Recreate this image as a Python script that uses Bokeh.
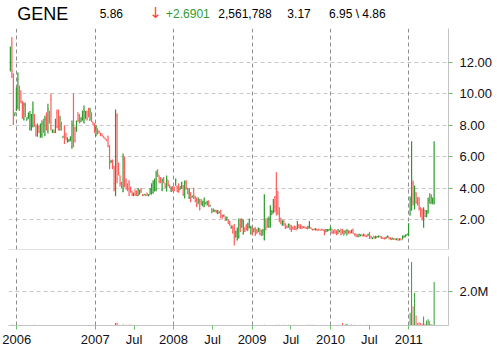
import pandas as pd
from bokeh.plotting import figure
from bokeh.layouts import column
from bokeh.models import ColumnDataSource, Range1d, FixedTicker, PrintfTickFormatter, Grid, Span
from bokeh.embed import file_html
from bokeh.resources import INLINE
from bokeh.core.properties import value

# ---------------- data (weekly bars, first week ending 2005-12-02) ----------------
first_week = "2005-12-02"

opens = [
    11.6, 13.2, 11.2, 8.6, 9.0, 9.2, 10.5, 10.2, 9.5, 8.4,
    9.4, 8.3, 8.4, 7.8, 7.7, 7.9, 8.6, 8.0, 7.3, 7.9,
    7.3, 7.4, 8.3, 7.4, 8.6, 7.6, 8.9, 9.6, 7.6, 7.7,
    7.6, 8.8, 8.9, 7.7, 8.2, 7.2, 7.9, 7.5, 7.0, 7.0,
    7.0, 6.6, 9.5, 7.8, 7.6, 8.8, 8.6, 8.2, 8.3, 8.2,
    8.4, 8.9, 9.0, 8.3, 8.8, 8.2, 8.1, 7.3, 7.8, 7.6,
    7.5, 7.45, 7.3, 7.2, 7.1, 7.3, 6.7, 5.6, 5.8, 5.4,
    3.5, 8.6, 5.6, 4.8, 4.3, 3.8, 5.8, 4.5, 4.2, 4.4,
    4.0, 3.8, 3.5, 3.9, 3.8, 3.5, 3.6, 3.9, 3.6, 3.55,
    3.6, 3.7, 3.5, 3.6, 3.6, 3.7, 3.8, 3.9, 5.1, 4.8,
    4.6, 3.9, 4.6, 4.3, 3.8, 4.5, 4.2, 3.8, 4.1, 4.0,
    4.2, 4.1, 4.2, 3.9, 4.0, 4.1, 3.4, 4.4, 4.0, 3.4,
    3.7, 3.4, 4.0, 3.5, 3.3, 3.0, 3.2, 3.1, 2.9, 2.8,
    3.0, 2.9, 3.2, 2.85, 2.7, 2.5, 2.5, 2.6, 2.35, 2.4,
    2.6, 2.3, 2.2, 2.2, 1.95, 2.0, 1.9, 1.45, 1.6, 1.5,
    0.9, 0.7, 0.9, 1.9, 1.5, 1.1, 1.5, 1.6, 1.3, 1.5,
    1.1, 1.5, 1.2, 1.5, 1.3, 1.2, 1.4, 1.3, 1.0, 0.8,
    2.05, 2.1, 1.5, 1.5, 2.3, 2.4, 3.4, 3.5, 3.8, 2.7,
    2.1, 1.7, 1.9, 1.75, 1.6, 1.5, 1.7, 1.6, 1.5, 1.6,
    1.55, 1.4, 1.65, 1.7, 1.6, 1.5, 1.55, 1.5, 1.4, 1.45,
    1.5, 1.4, 1.35, 1.35, 1.4, 1.4, 1.35, 1.4, 1.35, 1.35,
    1.2, 1.25, 1.3, 1.3, 1.4, 1.3, 1.35, 1.3, 1.1, 1.2,
    1.4, 1.35, 1.0, 1.3, 1.0, 1.3, 1.25, 1.15, 1.4, 1.1,
    1.1, 1.05, 0.9, 0.95, 1.05, 0.95, 1.05, 1.0, 0.95, 1.2,
    0.95, 0.77, 0.95, 0.8, 0.85, 0.88, 0.95, 0.92, 0.85, 0.85,
    0.78, 0.85, 0.9, 0.85, 0.72, 0.8, 0.8, 0.7, 0.8, 0.7,
    0.78, 0.75, 0.85, 0.9, 1.0, 1.0, 2.3, 2.6, 4.3, 2.7,
    3.7, 3.4, 3.4, 2.78, 2.57, 1.6, 2.6, 2.2, 2.4, 3.6,
    3.0, 3.0, 3.0,
]

highs = [
    13.0, 13.6, 11.3, 8.8, 10.4, 11.35, 10.5, 10.2, 9.55, 9.45,
    9.4, 8.5, 8.8, 8.9, 8.7, 9.5, 8.7, 8.0, 8.1, 7.95,
    8.1, 8.3, 8.4, 8.6, 8.8, 9.36, 8.9, 10.0, 7.7, 7.7,
    8.4, 9.0, 9.0, 8.6, 8.2, 7.3, 7.97, 7.5, 7.2, 7.1,
    7.3, 8.29, 10.0, 7.9, 8.3, 8.8, 8.7, 8.5, 8.92, 9.24,
    8.9, 8.9, 9.1, 9.1, 8.8, 8.2, 8.1, 8.0, 7.8, 7.65,
    7.5, 7.46, 7.3, 7.2, 7.1, 7.33, 6.7, 5.8, 5.8, 5.4,
    9.0, 8.75, 5.6, 4.8, 4.4, 6.2, 6.0, 4.6, 4.3, 4.5,
    4.1, 3.8, 3.7, 3.9, 3.85, 4.0, 3.9, 4.0, 3.6, 3.6,
    3.6, 3.7, 3.6, 4.0, 4.3, 4.5, 4.6, 5.1, 5.2, 4.8,
    4.7, 4.6, 4.7, 4.3, 4.8, 4.5, 4.2, 4.1, 4.1, 4.1,
    4.6, 4.16, 4.3, 4.1, 4.4, 4.2, 4.48, 4.5, 4.0, 4.0,
    3.73, 3.5, 4.0, 3.5, 3.4, 3.4, 3.3, 3.3, 3.2, 3.4,
    3.1, 3.2, 3.2, 2.9, 2.7, 2.7, 2.6, 2.6, 2.6, 2.5,
    2.6, 2.3, 2.3, 2.2, 2.2, 2.0, 1.9, 1.6, 1.6, 1.72,
    1.3, 1.5, 2.06, 2.06, 2.06, 2.0, 1.5, 1.7, 1.8, 2.06,
    1.6, 1.5, 1.45, 1.5, 1.4, 1.5, 1.45, 1.35, 1.4, 3.6,
    2.05, 2.1, 2.2, 2.9, 2.6, 3.3, 3.5, 5.0, 3.8, 2.78,
    2.1, 1.95, 1.95, 1.75, 1.6, 1.75, 1.7, 1.65, 1.55, 1.6,
    1.55, 1.9, 1.7, 1.7, 1.6, 1.55, 1.55, 1.5, 1.6, 1.9,
    1.5, 1.4, 1.4, 1.45, 1.4, 1.4, 1.35, 1.4, 1.4, 1.37,
    1.4, 1.4, 1.4, 1.55, 1.4, 1.3, 1.4, 1.3, 1.4, 1.3,
    1.4, 1.4, 1.3, 1.3, 1.4, 1.3, 1.3, 1.35, 1.4, 1.1,
    1.1, 1.05, 1.1, 1.05, 1.05, 1.1, 1.05, 1.0, 1.1, 1.2,
    0.95, 0.85, 0.95, 0.95, 0.95, 0.98, 0.95, 0.92, 0.85, 0.85,
    0.9, 0.98, 0.9, 0.85, 0.85, 0.8, 0.8, 0.8, 0.8, 0.8,
    0.78, 0.98, 0.98, 1.05, 1.1, 1.77, 3.46, 6.97, 4.48, 4.16,
    3.73, 3.42, 3.4, 2.78, 2.7, 2.78, 2.6, 2.6, 3.4, 3.67,
    3.6, 3.4, 6.97,
]

lows = [
    11.4, 11.0, 8.0, 8.6, 8.9, 9.0, 8.9, 9.4, 8.4, 8.3,
    8.5, 8.3, 8.4, 7.65, 7.65, 7.86, 7.9, 7.27, 7.27, 7.5,
    7.2, 7.2, 7.5, 7.3, 7.65, 7.46, 8.1, 7.65, 7.5, 7.5,
    7.5, 7.8, 7.65, 7.65, 7.65, 7.2, 6.8, 7.1, 6.9, 6.95,
    7.0, 6.5, 6.6, 6.9, 7.6, 8.2, 8.1, 8.2, 8.29, 8.1,
    8.4, 8.3, 8.5, 8.3, 8.2, 8.0, 7.5, 7.3, 7.4, 7.46,
    7.3, 7.3, 7.2, 7.1, 7.0, 6.6, 5.2, 5.6, 5.2, 3.8,
    3.5, 4.3, 4.8, 4.1, 4.0, 3.73, 4.05, 3.9, 3.8, 3.5,
    3.7, 3.5, 3.5, 3.5, 3.5, 3.5, 3.6, 3.7, 3.5, 3.55,
    3.5, 3.5, 3.5, 3.6, 3.6, 3.65, 3.8, 3.8, 4.7, 4.3,
    4.3, 3.8, 4.3, 4.0, 3.8, 4.1, 4.0, 3.75, 3.8, 3.8,
    4.15, 3.73, 3.7, 3.9, 3.95, 3.5, 3.33, 3.9, 3.6, 3.3,
    3.1, 3.4, 3.3, 3.1, 2.78, 3.0, 2.57, 2.9, 2.85, 2.8,
    3.0, 2.9, 2.8, 2.85, 2.4, 2.5, 2.5, 2.4, 2.35, 2.4,
    2.06, 2.06, 2.2, 1.9, 1.95, 1.7, 1.6, 1.43, 1.1, 0.35,
    0.85, 0.67, 0.8, 1.2, 1.5, 1.05, 1.2, 1.3, 1.3, 1.45,
    1.05, 1.0, 1.2, 0.95, 1.1, 1.2, 1.0, 0.95, 1.0, 0.67,
    1.3, 1.5, 1.5, 1.5, 2.3, 2.4, 2.46, 2.25, 2.3, 1.83,
    1.7, 1.6, 1.6, 1.4, 1.45, 1.5, 1.35, 1.2, 1.35, 1.35,
    1.3, 1.4, 1.45, 1.4, 1.4, 1.5, 1.45, 1.4, 1.4, 1.45,
    1.4, 1.3, 1.35, 1.3, 1.3, 1.3, 1.3, 1.3, 1.3, 1.0,
    1.2, 1.25, 1.3, 1.3, 1.1, 1.1, 1.1, 1.0, 1.1, 1.2,
    1.0, 1.1, 1.0, 1.1, 1.0, 1.1, 1.1, 1.15, 1.1, 0.98,
    0.88, 0.9, 0.9, 0.95, 0.95, 0.95, 0.9, 0.9, 0.95, 0.77,
    0.8, 0.77, 0.8, 0.8, 0.85, 0.88, 0.85, 0.77, 0.77, 0.75,
    0.78, 0.85, 0.75, 0.72, 0.72, 0.72, 0.7, 0.7, 0.65, 0.68,
    0.68, 0.75, 0.85, 0.9, 1.0, 0.93, 2.25, 2.57, 2.89, 2.63,
    3.0, 2.89, 2.57, 2.15, 1.94, 1.47, 2.15, 2.15, 2.38, 3.0,
    3.0, 3.0, 2.97,
]

closes = [
    12.6, 11.4, 8.4, 8.8, 10.0, 10.9, 9.2, 9.4, 8.6, 9.3,
    8.6, 8.5, 8.7, 8.6, 8.5, 9.0, 8.0, 7.4, 7.9, 7.6,
    7.9, 8.1, 7.6, 8.4, 7.8, 9.0, 8.2, 7.8, 7.7, 7.5,
    8.2, 7.9, 7.8, 8.4, 7.7, 7.3, 7.0, 7.1, 7.2, 7.1,
    7.2, 8.0, 7.0, 7.0, 8.1, 8.3, 8.2, 8.4, 8.9, 8.9,
    8.8, 8.4, 8.6, 8.9, 8.3, 8.0, 7.6, 7.9, 7.5, 7.5,
    7.35, 7.3, 7.2, 7.1, 7.0, 6.7, 5.5, 5.7, 5.3, 4.3,
    5.9, 4.6, 5.0, 4.3, 4.1, 5.8, 4.3, 4.0, 3.9, 3.6,
    3.8, 3.6, 3.7, 3.6, 3.55, 3.9, 3.8, 3.75, 3.5, 3.6,
    3.5, 3.55, 3.6, 3.9, 4.1, 4.3, 4.4, 4.9, 4.8, 4.4,
    4.4, 4.5, 4.4, 4.1, 4.5, 4.2, 4.05, 4.0, 3.9, 3.85,
    4.5, 3.8, 3.8, 4.1, 4.3, 3.6, 4.3, 4.0, 3.7, 3.9,
    3.2, 3.5, 3.4, 3.2, 2.9, 3.3, 2.7, 3.0, 3.1, 3.3,
    3.1, 3.1, 2.9, 2.9, 2.45, 2.65, 2.6, 2.45, 2.55, 2.5,
    2.2, 2.1, 2.3, 2.0, 2.1, 1.8, 1.65, 1.6, 1.2, 0.9,
    1.2, 1.3, 1.7, 1.3, 1.9, 1.8, 1.25, 1.35, 1.7, 1.9,
    1.5, 1.1, 1.4, 1.1, 1.15, 1.4, 1.1, 1.0, 1.3, 2.2,
    1.5, 1.6, 2.0, 2.7, 2.5, 3.1, 2.8, 2.6, 2.4, 2.0,
    1.8, 1.9, 1.7, 1.45, 1.5, 1.7, 1.4, 1.3, 1.4, 1.4,
    1.35, 1.7, 1.5, 1.45, 1.45, 1.55, 1.45, 1.45, 1.55, 1.6,
    1.4, 1.35, 1.4, 1.4, 1.3, 1.35, 1.3, 1.35, 1.3, 1.1,
    1.35, 1.35, 1.38, 1.5, 1.15, 1.15, 1.2, 1.05, 1.35, 1.3,
    1.05, 1.15, 1.25, 1.15, 1.3, 1.15, 1.15, 1.3, 1.15, 1.0,
    0.95, 0.9, 1.05, 1.0, 0.95, 1.05, 0.92, 0.9, 1.05, 0.8,
    0.82, 0.85, 0.82, 0.95, 0.92, 0.95, 0.88, 0.8, 0.78, 0.76,
    0.88, 0.95, 0.78, 0.75, 0.8, 0.75, 0.72, 0.78, 0.7, 0.78,
    0.7, 0.95, 0.95, 1.0, 1.08, 1.7, 3.3, 3.6, 3.1, 3.6,
    3.1, 3.0, 2.7, 2.3, 2.1, 2.5, 2.2, 2.5, 3.2, 3.1,
    3.4, 3.2, 3.1,
]

# weekly volume, millions of shares
volumes_m = [
    0, 0.05, 0.05, 0, 0.05, 0, 0, 0, 0, 0,
    0, 0, 0, 0, 0, 0, 0.05, 0, 0, 0,
    0, 0, 0, 0, 0, 0, 0, 0, 0, 0,
    0, 0, 0, 0, 0, 0, 0, 0, 0, 0,
    0, 0, 0, 0, 0, 0, 0, 0, 0, 0,
    0, 0, 0, 0, 0, 0, 0, 0, 0, 0,
    0, 0, 0, 0, 0, 0, 0, 0, 0, 0,
    0.14, 0.18, 0.05, 0, 0, 0.06, 0, 0.05, 0, 0.05,
    0.05, 0.05, 0, 0, 0, 0, 0, 0, 0, 0,
    0, 0, 0, 0, 0, 0, 0, 0, 0, 0,
    0, 0, 0, 0, 0, 0, 0, 0, 0, 0,
    0, 0, 0, 0, 0, 0, 0, 0, 0, 0,
    0, 0, 0, 0, 0, 0, 0, 0, 0, 0,
    0, 0, 0, 0, 0, 0, 0, 0, 0, 0,
    0, 0, 0, 0, 0, 0, 0, 0, 0, 0,
    0, 0, 0, 0, 0, 0, 0, 0, 0, 0,
    0, 0, 0, 0, 0, 0, 0, 0, 0, 0.05,
    0, 0, 0, 0, 0, 0, 0, 0.05, 0, 0.05,
    0, 0, 0.05, 0, 0, 0.05, 0, 0, 0, 0.05,
    0, 0, 0, 0, 0, 0, 0, 0, 0.05, 0,
    0.05, 0, 0.05, 0, 0, 0, 0, 0, 0, 0,
    0, 0, 0, 0, 0, 0, 0, 0, 0, 0,
    0, 0.15, 0, 0.08, 0.1, 0, 0.05, 0.05, 0, 0.05,
    0, 0, 0, 0, 0, 0, 0, 0, 0.05, 0,
    0, 0, 0, 0, 0, 0, 0, 0, 0, 0,
    0, 0, 0, 0, 0, 0, 0, 0, 0, 0,
    0, 0, 0, 0, 0, 0, 0.75, 3.73, 1.13, 1.92,
    0.59, 0.14, 0.2, 0.14, 0.1, 0.53, 0.1, 0.3, 0.37, 0.27,
    0.08, 0.05, 2.56,
]

price_ticks = [2, 4, 6, 8, 10, 12]
volume_ticks = [2]
date_tick_days = ["2006-01-01", "2007-01-01", "2007-07-01", "2008-01-01", "2008-07-01",
                  "2009-01-01", "2009-07-01", "2010-01-01", "2010-07-01", "2011-01-01"]
date_tick_labels = ["2006", "2007", "Jul", "2008", "Jul", "2009", "Jul", "2010", "Jul", "2011"]
year_days = ["2006-01-01", "2007-01-01", "2008-01-01", "2009-01-01", "2010-01-01", "2011-01-01"]

header_texts = ["GENE", "5.86", "\u2193", "+2.6901", "2,561,788", "3.17", "6.95 \\ 4.86"]

n = len(closes)
assert len(opens) == n and len(highs) == n and len(lows) == n and len(volumes_m) == n, \
    (len(opens), len(highs), len(lows), n, len(volumes_m))

# ---------------- styling ----------------
GREEN = "#2b9a2b"
RED = "#ff5c5c"
TICK_GREEN = "#6cc06c"
AXIS_GRAY = "#c4c4c4"
HGRID = "#c8c8c8"
VGRID = "#8e8e8e"
FONT = "Liberation Sans"
LABEL_COLOR = "#101020"


def ms(d):
    return int(pd.Timestamp(d).value // 10**6)


dates = pd.date_range(first_week, periods=n, freq="7D")
colors = [GREEN if c >= o else RED for o, c in zip(opens, closes)]
half = pd.Timedelta(days=2.5)

src = ColumnDataSource(dict(
    t=dates, tl=dates - half, tr=dates + half,
    o=opens, h=highs, l=lows, c=closes, v=volumes_m, color=colors,
))

x_start = pd.Timestamp("2006-01-01") - pd.Timedelta(days=38.7)
x_end = x_start + pd.Timedelta(days=2049.6)
xr = Range1d(start=x_start, end=x_end)

year_ms = [ms(d) for d in year_days]
tick_ms = [ms(d) for d in date_tick_days]

# ---------------- header ----------------
hdr = figure(width=497, height=27, x_range=Range1d(0, 497), y_range=Range1d(27, 0),
             toolbar_location=None, output_backend="svg",
             min_border_left=0, min_border_right=0, min_border_top=0, min_border_bottom=0,
             x_axis_location=None, y_axis_location=None)
hdr.grid.visible = False
hdr.outline_line_color = None
hdr_src = ColumnDataSource(dict(
    x=[10, 103, 159, 178, 237, 315, 362],
    y=[13, 13, 12.5, 13, 13, 13, 13],
    text=header_texts,
    size=["18px", "12px", "15px", "12px", "12px", "12px", "12px"],
    font=[FONT, FONT, "DejaVu Sans", FONT, FONT, FONT, FONT],
    color=["#000000", "#000000", "#ff4040", "#2f9a2f", "#000000", "#000000", "#000000"],
))
hdr.text(x="x", y="y", text="text", text_font_size="size", text_color="color",
         text_font="font", text_baseline="middle", text_align="left", source=hdr_src)

# ---------------- price panel ----------------
p = figure(width=497, height=225, x_range=xr, y_range=Range1d(0.095, 14.14),
           x_axis_type="datetime", x_axis_location=None, y_axis_location="right",
           toolbar_location=None, output_backend="svg",
           min_border_left=8, min_border_right=49, min_border_top=1, min_border_bottom=3)
p.outline_line_color = None
p.grid.visible = False
p.add_layout(Grid(dimension=1, ticker=FixedTicker(ticks=price_ticks),
                  grid_line_color=HGRID, grid_line_dash="4 3"))
p.add_layout(Grid(dimension=0, ticker=FixedTicker(ticks=year_ms),
                  grid_line_color=VGRID, grid_line_dash="4 3"))
p.add_layout(Span(location=0.095, dimension="width", line_color=AXIS_GRAY, line_width=1))

p.segment(x0="t", y0="l", x1="t", y1="h", line_color="color", line_width=1.2, source=src)
p.segment(x0="tl", y0="o", x1="t", y1="o", line_color="color", line_width=1.2, source=src)
p.segment(x0="t", y0="c", x1="tr", y1="c", line_color="color", line_width=1.2, source=src)

ya = p.yaxis[0]
ya.ticker = FixedTicker(ticks=price_ticks)
ya.formatter = PrintfTickFormatter(format="%.2f")
ya.axis_line_color = AXIS_GRAY
ya.major_tick_line_color = TICK_GREEN
ya.major_tick_in = 0
ya.major_tick_out = 4
ya.minor_tick_line_color = None
ya.major_label_standoff = 7
ya.major_label_text_font = FONT
ya.major_label_text_font_size = "13px"
ya.major_label_text_color = LABEL_COLOR

# ---------------- volume panel ----------------
v = figure(width=497, height=98, x_range=xr, y_range=Range1d(0, 4.06),
           x_axis_type="datetime", y_axis_location="right",
           toolbar_location=None, output_backend="svg",
           min_border_left=8, min_border_right=49, min_border_top=4, min_border_bottom=25)
v.outline_line_color = None
v.grid.visible = False
v.add_layout(Grid(dimension=1, ticker=FixedTicker(ticks=volume_ticks),
                  grid_line_color=HGRID, grid_line_dash="4 3"))
v.add_layout(Grid(dimension=0, ticker=FixedTicker(ticks=year_ms),
                  grid_line_color=VGRID, grid_line_dash="4 3"))
v.vbar(x="t", top="v", bottom=0, width=4.5 * 86400000, fill_color="color",
       line_color=None, source=src)

vy = v.yaxis[0]
vy.ticker = FixedTicker(ticks=volume_ticks)
vy.formatter = PrintfTickFormatter(format="%.1fM")
vy.axis_line_color = AXIS_GRAY
vy.major_tick_line_color = TICK_GREEN
vy.major_tick_in = 0
vy.major_tick_out = 4
vy.minor_tick_line_color = None
vy.major_label_standoff = 7
vy.major_label_text_font = FONT
vy.major_label_text_font_size = "13px"
vy.major_label_text_color = LABEL_COLOR

vx = v.xaxis[0]
vx.ticker = FixedTicker(ticks=tick_ms)
vx.major_label_overrides = {t: lab for t, lab in zip(tick_ms, date_tick_labels)}
vx.axis_line_color = AXIS_GRAY
vx.major_tick_line_color = TICK_GREEN
vx.major_tick_in = 0
vx.major_tick_out = 4
vx.minor_tick_line_color = None
vx.major_label_standoff = 2
vx.major_label_text_font = FONT
vx.major_label_text_font_size = "13px"
vx.major_label_text_color = LABEL_COLOR

layout = column(hdr, p, v, spacing=0)
open("out.html", "w").write(file_html(layout, INLINE))
